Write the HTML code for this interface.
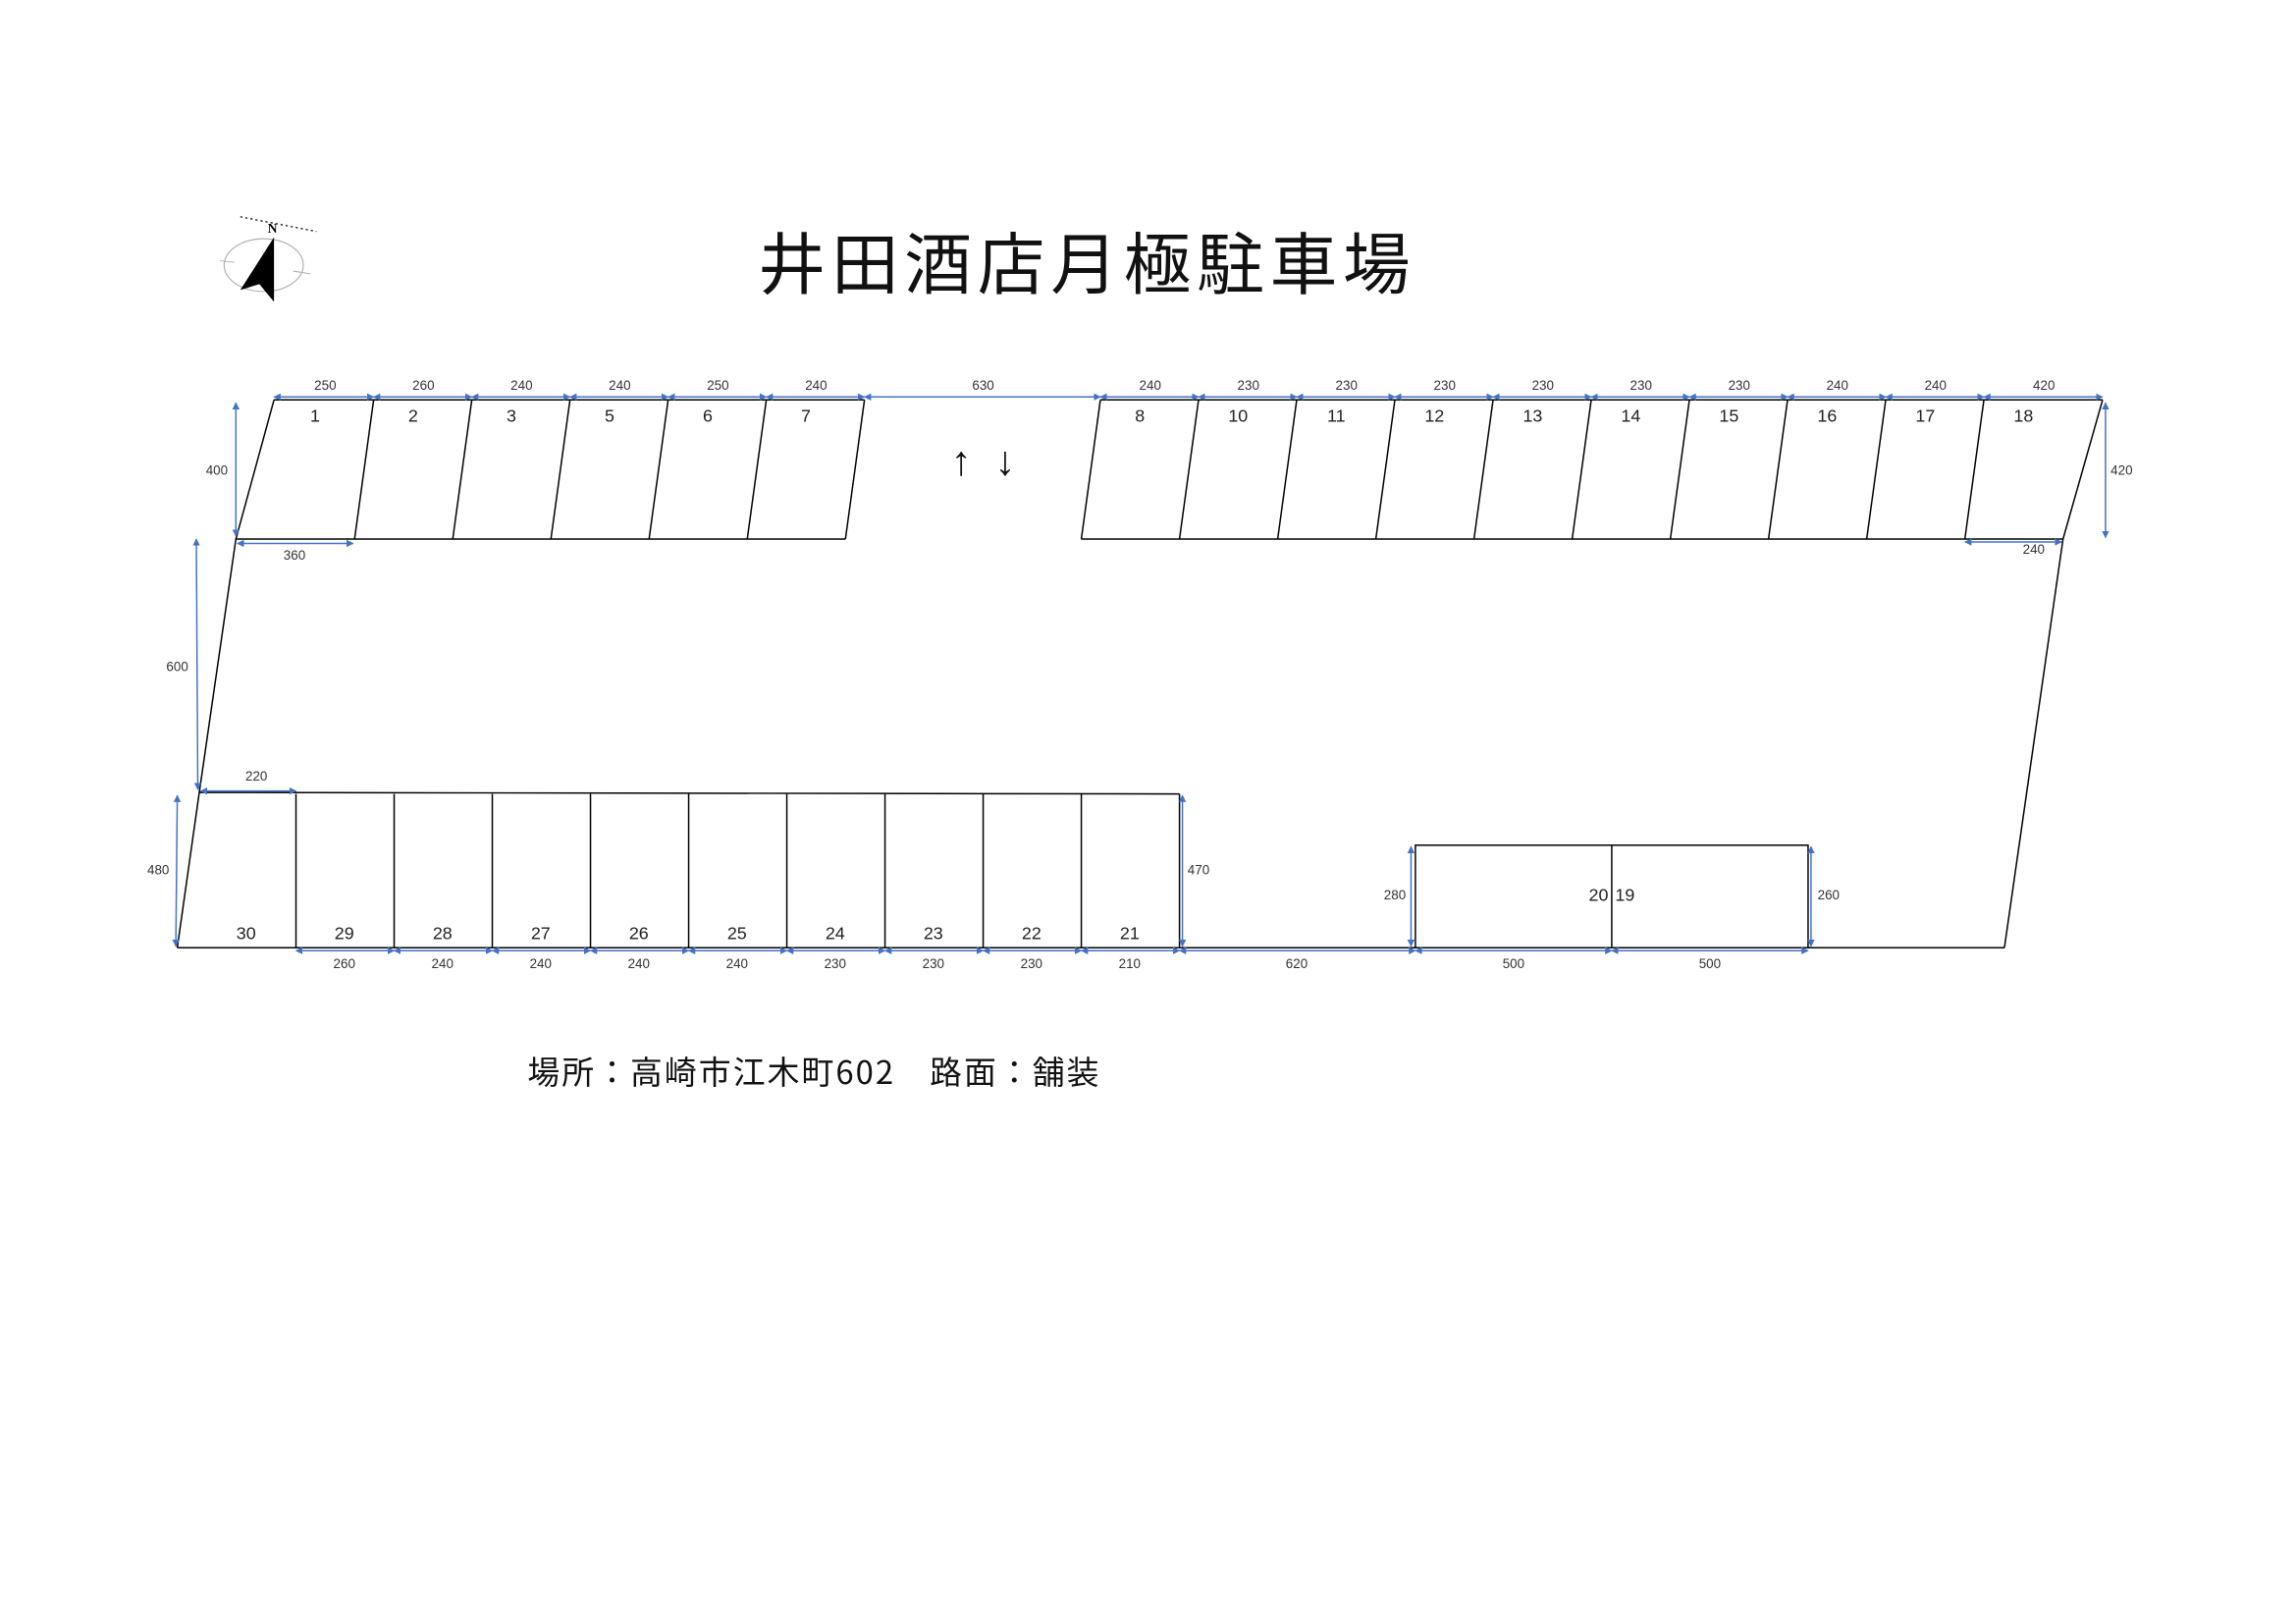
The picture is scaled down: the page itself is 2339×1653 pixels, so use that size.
<!DOCTYPE html>
<html><head><meta charset="utf-8"><style>
html,body{margin:0;padding:0;background:#fff;}
svg{display:block;}
text{font-family:"Liberation Sans","Noto Sans CJK JP",sans-serif;}
</style></head><body>
<svg width="2339" height="1653" viewBox="0 0 1567 1108" preserveAspectRatio="none" xmlns="http://www.w3.org/2000/svg">
<defs>
<marker id="a" viewBox="0 0 10 10" refX="9" refY="5" markerWidth="5" markerHeight="5" orient="auto-start-reverse"><path d="M0,0 L10,5 L0,10 z" fill="#4472C4"/></marker>
</defs>
<rect width="1567" height="1108" fill="#fff"/>
<text x="740" y="197" font-size="46" text-anchor="middle" fill="#111" style="font-family:'Noto Sans CJK JP',sans-serif" textLength="445">井田酒店月極駐車場</text>
<g>
<line x1="164" y1="148" x2="216" y2="158" stroke="#000" stroke-width="0.8" stroke-dasharray="1.5,2"/>
<ellipse cx="180" cy="181" rx="27" ry="18" fill="none" stroke="#aaa" stroke-width="0.7"/>
<line x1="150" y1="178" x2="160" y2="179" stroke="#aaa" stroke-width="0.6"/>
<line x1="200" y1="185" x2="212" y2="187" stroke="#aaa" stroke-width="0.6"/>
<path d="M187,162 L164,198 L177,194 L187,206 Z" fill="#000"/>
<text x="186" y="159" font-size="9" font-weight="bold" text-anchor="middle" style="font-family:'Liberation Serif',serif">N</text>
</g>
<g stroke="#000" stroke-width="1" fill="none">
<line x1="187" y1="273" x2="590" y2="273"/>
<line x1="187" y1="273" x2="161" y2="368"/>
<line x1="161" y1="368" x2="577" y2="368"/>
<line x1="255" y1="273" x2="242" y2="368"/>
<line x1="322" y1="273" x2="309" y2="368"/>
<line x1="389" y1="273" x2="376" y2="368"/>
<line x1="456" y1="273" x2="443" y2="368"/>
<line x1="523" y1="273" x2="510" y2="368"/>
<line x1="590" y1="273" x2="577" y2="368"/>
<line x1="751" y1="273" x2="1435" y2="273"/>
<line x1="738" y1="368" x2="1408" y2="368"/>
<line x1="751" y1="273" x2="738" y2="368"/>
<line x1="818" y1="273" x2="805" y2="368"/>
<line x1="885" y1="273" x2="872" y2="368"/>
<line x1="952" y1="273" x2="939" y2="368"/>
<line x1="1019" y1="273" x2="1006" y2="368"/>
<line x1="1086" y1="273" x2="1073" y2="368"/>
<line x1="1153" y1="273" x2="1140" y2="368"/>
<line x1="1220" y1="273" x2="1207" y2="368"/>
<line x1="1287" y1="273" x2="1274" y2="368"/>
<line x1="1354" y1="273" x2="1341" y2="368"/>
<line x1="1435" y1="273" x2="1408" y2="368"/>
<line x1="161" y1="368" x2="136" y2="541"/>
<line x1="136" y1="541" x2="121" y2="647"/>
<line x1="136" y1="541" x2="805" y2="542"/>
<line x1="121" y1="647" x2="1368" y2="647"/>
<line x1="1408" y1="368" x2="1368" y2="647"/>
<line x1="805" y1="542" x2="805" y2="647"/>
<line x1="202" y1="542" x2="202" y2="647"/>
<line x1="269" y1="542" x2="269" y2="647"/>
<line x1="336" y1="542" x2="336" y2="647"/>
<line x1="403" y1="542" x2="403" y2="647"/>
<line x1="470" y1="542" x2="470" y2="647"/>
<line x1="537" y1="542" x2="537" y2="647"/>
<line x1="604" y1="542" x2="604" y2="647"/>
<line x1="671" y1="542" x2="671" y2="647"/>
<line x1="738" y1="542" x2="738" y2="647"/>
<rect x="966" y="577" width="268" height="70"/>
<line x1="1100" y1="577" x2="1100" y2="647"/>
</g>
<g stroke="#4472C4" stroke-width="1" marker-start="url(#a)" marker-end="url(#a)">
<line x1="187" y1="271" x2="255" y2="271"/>
<line x1="255" y1="271" x2="322" y2="271"/>
<line x1="322" y1="271" x2="389" y2="271"/>
<line x1="389" y1="271" x2="456" y2="271"/>
<line x1="456" y1="271" x2="523" y2="271"/>
<line x1="523" y1="271" x2="590" y2="271"/>
<line x1="590" y1="271" x2="751" y2="271"/>
<line x1="751" y1="271" x2="818" y2="271"/>
<line x1="818" y1="271" x2="885" y2="271"/>
<line x1="885" y1="271" x2="952" y2="271"/>
<line x1="952" y1="271" x2="1019" y2="271"/>
<line x1="1019" y1="271" x2="1086" y2="271"/>
<line x1="1086" y1="271" x2="1153" y2="271"/>
<line x1="1153" y1="271" x2="1220" y2="271"/>
<line x1="1220" y1="271" x2="1287" y2="271"/>
<line x1="1287" y1="271" x2="1354" y2="271"/>
<line x1="1354" y1="271" x2="1435" y2="271"/>
<line x1="161" y1="275" x2="161" y2="366"/>
<line x1="134" y1="368" x2="135" y2="539"/>
<line x1="121" y1="543" x2="120" y2="646"/>
<line x1="162" y1="371" x2="241" y2="371"/>
<line x1="137" y1="540" x2="202" y2="540"/>
<line x1="1437" y1="275" x2="1437" y2="367"/>
<line x1="1341" y1="370" x2="1407" y2="370"/>
<line x1="807" y1="543" x2="807" y2="646"/>
<line x1="963" y1="578" x2="963" y2="646"/>
<line x1="1236" y1="578" x2="1236" y2="646"/>
<line x1="202" y1="649" x2="269" y2="649"/>
<line x1="269" y1="649" x2="336" y2="649"/>
<line x1="336" y1="649" x2="403" y2="649"/>
<line x1="403" y1="649" x2="470" y2="649"/>
<line x1="470" y1="649" x2="537" y2="649"/>
<line x1="537" y1="649" x2="604" y2="649"/>
<line x1="604" y1="649" x2="671" y2="649"/>
<line x1="671" y1="649" x2="738" y2="649"/>
<line x1="738" y1="649" x2="805" y2="649"/>
<line x1="805" y1="649" x2="966" y2="649"/>
<line x1="966" y1="649" x2="1100" y2="649"/>
<line x1="1100" y1="649" x2="1234" y2="649"/>
</g>
<g font-size="9" fill="#333" text-anchor="middle">
<text x="222" y="266">250</text><text x="289" y="266">260</text><text x="356" y="266">240</text>
<text x="423" y="266">240</text><text x="490" y="266">250</text><text x="557" y="266">240</text>
<text x="671" y="266">630</text><text x="785" y="266">240</text><text x="852" y="266">230</text>
<text x="919" y="266">230</text><text x="986" y="266">230</text><text x="1053" y="266">230</text>
<text x="1120" y="266">230</text><text x="1187" y="266">230</text><text x="1254" y="266">240</text>
<text x="1321" y="266">240</text><text x="1395" y="266">420</text>
<text x="148" y="324">400</text><text x="121" y="458">600</text><text x="108" y="597">480</text>
<text x="201" y="382">360</text><text x="175" y="533">220</text>
<text x="1448" y="324">420</text><text x="1388" y="378">240</text>
<text x="818" y="597">470</text><text x="952" y="614">280</text><text x="1248" y="614">260</text>
<text x="235" y="661">260</text><text x="302" y="661">240</text><text x="369" y="661">240</text>
<text x="436" y="661">240</text><text x="503" y="661">240</text><text x="570" y="661">230</text>
<text x="637" y="661">230</text><text x="704" y="661">230</text><text x="771" y="661">210</text>
<text x="885" y="661">620</text><text x="1033" y="661">500</text><text x="1167" y="661">500</text>
</g>
<g font-size="12" fill="#222" text-anchor="middle">
<text x="215" y="288">1</text><text x="282" y="288">2</text><text x="349" y="288">3</text>
<text x="416" y="288">5</text><text x="483" y="288">6</text><text x="550" y="288">7</text>
<text x="778" y="288">8</text><text x="845" y="288">10</text><text x="912" y="288">11</text>
<text x="979" y="288">12</text><text x="1046" y="288">13</text><text x="1113" y="288">14</text>
<text x="1180" y="288">15</text><text x="1247" y="288">16</text><text x="1314" y="288">17</text>
<text x="1381" y="288">18</text>
<text x="168" y="641">30</text><text x="235" y="641">29</text><text x="302" y="641">28</text>
<text x="369" y="641">27</text><text x="436" y="641">26</text><text x="503" y="641">25</text>
<text x="570" y="641">24</text><text x="637" y="641">23</text><text x="704" y="641">22</text>
<text x="771" y="641">21</text>
<text x="1091" y="615">20</text><text x="1109" y="615">19</text>
</g>
<text x="656" y="324" font-size="28" text-anchor="middle" fill="#111">↑</text>
<text x="686" y="324" font-size="28" text-anchor="middle" fill="#111">↓</text>
<text x="360" y="740" font-size="22" fill="#111" textLength="390" style="font-family:'Noto Sans CJK JP',sans-serif">場所：高崎市江木町602　路面：舗装</text>
</svg>
</body></html>
